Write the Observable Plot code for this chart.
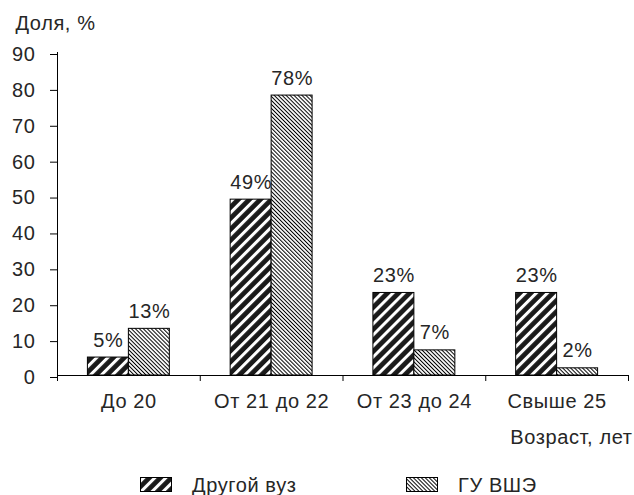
<!DOCTYPE html>
<html>
<head>
<meta charset="utf-8">
<script src="https://cdn.jsdelivr.net/npm/d3@7"></script>
<script src="https://cdn.jsdelivr.net/npm/@observablehq/plot@0.6"></script>
<style>
  html, body { margin: 0; padding: 0; background: #fff; }
  #chart svg { display: block; }
</style>
</head>
<body>
<div id="chart"></div>
<script>
const categories = ["До 20", "От 21 до 22", "От 23 до 24", "Свыше 25"];
const seriesNames = ["Другой вуз", "ГУ ВШЭ"];
const otherUni = [5, 49, 23, 23];
const hse = [13, 78, 7, 2];
const yTicks = [0, 10, 20, 30, 40, 50, 60, 70, 80, 90];
const yTitle = "Доля, %";
const xTitle = "Возраст, лет";

const FONT = "'Liberation Sans', Arial, sans-serif";
const TEXT = "#262626";
const fills = ["url(#patOther)", "url(#patHse)"];
const groupPad = 0.213;
const barW = 0.287;

const rows = [];
categories.forEach((c, i) => {
  [otherUni, hse].forEach((arr, s) => {
    rows.push({cat: c, ci: i, s, series: seriesNames[s], value: arr[i]});
  });
});

const chart = Plot.plot({
  width: 634,
  height: 465,
  marginLeft: 57,
  marginRight: 6,
  marginTop: 52,
  marginBottom: 90,
  style: {fontSize: "20px", fontFamily: FONT, color: TEXT, background: "#fff", overflow: "visible", letterSpacing: "0.6px"},
  x: {type: "linear", domain: [0, categories.length]},
  y: {domain: [0, 90]},
  marks: [
    Plot.rectY(rows, {
      x1: d => d.ci + groupPad + d.s * barW,
      x2: d => d.ci + groupPad + (d.s + 1) * barW,
      y: "value",
      fill: d => fills[d.s],
      stroke: "#000",
      strokeWidth: 1
    }),
    Plot.text(rows, {
      x: d => d.ci + groupPad + (d.s + 0.5) * barW,
      y: "value",
      text: d => `${d.value}%`,
      lineAnchor: "bottom",
      dy: -11,
      fill: TEXT,
      fontSize: 20
    }),
    Plot.ruleX([0], {y1: 0, y2: 90, stroke: "#000"}),
    Plot.ruleY([0], {stroke: "#000"}),
    Plot.axisY({ticks: yTicks, tickSize: 7, tickPadding: 15, label: null, stroke: "#000", strokeOpacity: 1, fill: TEXT, dy: 2}),
    Plot.axisX({ticks: d3.range(0, categories.length + 1), tickSize: 6, tickFormat: () => "", label: null, stroke: "#000", strokeOpacity: 1}),
    Plot.axisX({ticks: categories.map((c, i) => i + 0.5), tickSize: 0, tickPadding: 18, tickFormat: v => categories[Math.floor(v)], label: null, fill: TEXT}),
    Plot.text([yTitle], {frameAnchor: "top-left", dx: -42, dy: -23, textAnchor: "start", lineAnchor: "bottom", fill: TEXT, fontSize: 20}),
    Plot.text([xTitle], {frameAnchor: "bottom-right", dx: 4, dy: 68, textAnchor: "end", lineAnchor: "bottom", fill: TEXT, fontSize: 20})
  ]
});

const defs = `<defs>
  <pattern id="patOther" patternUnits="userSpaceOnUse" width="7.8" height="7.8" patternTransform="rotate(45)">
    <rect width="7.8" height="7.8" fill="#1a1a1a"></rect>
    <rect x="0" y="0" width="3" height="7.8" fill="#fff"></rect>
  </pattern>
  <pattern id="patHse" patternUnits="userSpaceOnUse" width="2.8" height="2.8" patternTransform="rotate(-45)">
    <rect width="2.8" height="2.8" fill="#fff"></rect>
    <rect x="0" y="0" width="1" height="2.8" fill="#000"></rect>
  </pattern>
</defs>`;
chart.insertAdjacentHTML("afterbegin", defs);
document.getElementById("chart").appendChild(chart);

// Legend below the chart
const legend = d3.create("svg").attr("width", 634).attr("height", 30)
  .style("display", "block").style("font-family", FONT).style("font-size", "20px")
  .style("letter-spacing", "0.6px");
const legendItems = [
  {name: seriesNames[0], fill: fills[0], sx: 140, tx: 192},
  {name: seriesNames[1], fill: fills[1], sx: 406, tx: 458}
];
legendItems.forEach(it => {
  legend.append("rect").attr("x", it.sx + 0.5).attr("y", 12.5).attr("width", 31).attr("height", 14)
    .attr("fill", it.fill).attr("stroke", "#000");
  legend.append("text").attr("x", it.tx).attr("y", 27).attr("fill", TEXT).text(it.name);
});
document.getElementById("chart").appendChild(legend.node());
</script>
</body>
</html>
